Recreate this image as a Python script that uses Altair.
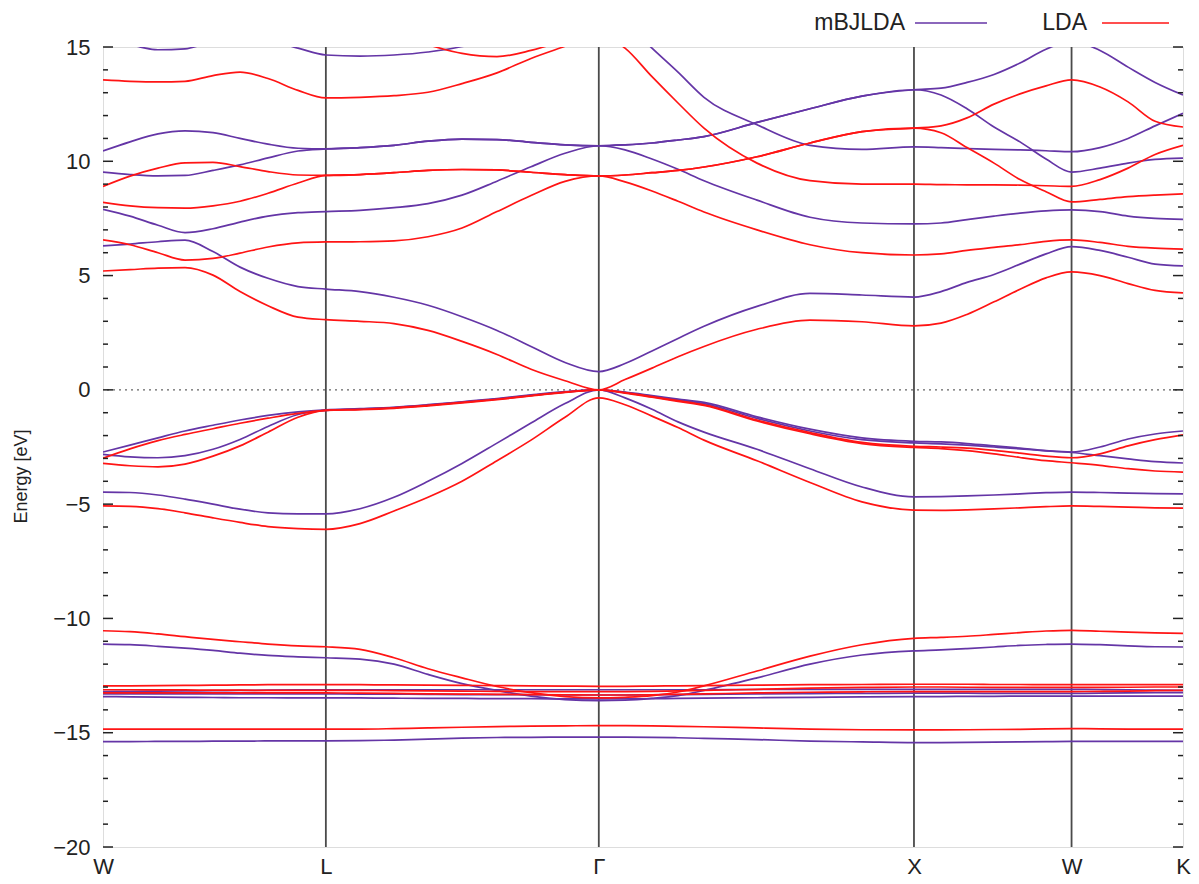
import altair as alt
import pandas as pd

# ---------------- data ----------------
# k-path distance (units of 2*pi/a) along W-L-Gamma-X-W-K
K_PATH = [0.0000, 0.0857, 0.1745, 0.2602, 0.3490, 0.4347, 0.5235, 0.6187, 0.7071,
          0.8154, 0.9233, 1.0312, 1.1391, 1.2501, 1.3580, 1.4659, 1.5731,
          1.6563, 1.7419, 1.8244, 1.9069, 2.0751, 2.2432, 2.4082, 2.5731,
          2.6589, 2.7414, 2.8271, 2.9096, 2.9921, 3.0731,
          3.1634, 3.2524, 3.3381, 3.4267]

SYM_K = [0.0, 0.7071, 1.5731, 2.5731, 3.0731, 3.4267]
SYM_LABELS = ["W", "L", "Γ", "X", "W", "K"]

Y_MAJOR = [-20, -15, -10, -5, 0, 5, 10, 15]
Y_MINOR = [-19, -18, -17, -16, -14, -13, -12, -11, -9, -8, -7, -6, -4, -3, -2, -1,
           1, 2, 3, 4, 6, 7, 8, 9, 11, 12, 13, 14]

METHODS = ["mBJLDA", "LDA"]
COLORS = ["#6435a6", "#ff1414"]

# ---- mBJLDA bands (eV) ----
P1 = [6.30, 6.38, 6.48, 6.55, 6.05, 5.37, 4.88, 4.52, 4.41,
      4.30, 4.05, 3.70, 3.20, 2.60, 1.90, 1.20, 0.80,
      1.15, 1.70, 2.25, 2.78, 3.65, 4.22, 4.15, 4.06,
      4.30, 4.70, 5.05, 5.50, 5.95, 6.27,
      6.10, 5.80, 5.50, 5.42]
P2 = [7.90, 7.60, 7.20, 6.88, 7.05, 7.34, 7.60, 7.75, 7.80,
      7.85, 7.97, 8.15, 8.52, 9.13, 9.76, 10.35, 10.68,
      10.50, 10.10, 9.65, 9.15, 8.30, 7.55, 7.30, 7.26,
      7.30, 7.45, 7.60, 7.73, 7.83, 7.87,
      7.80, 7.60, 7.50, 7.46]
P3 = [9.53, 9.42, 9.36, 9.38, 9.60, 9.84, 10.15, 10.45, 10.54,
      10.60, 10.70, 10.88, 10.97, 10.95, 10.83, 10.72, 10.68,
      10.72, 10.80, 10.93, 11.08, 11.70, 12.30, 12.85, 13.13,
      13.20, 13.45, 13.80, 14.30, 14.90, 15.25,
      14.85, 14.12, 13.45, 12.90]
P4 = [10.45, 10.85, 11.20, 11.33, 11.25, 11.00, 10.75, 10.57, 10.54,
      10.60, 10.70, 10.88, 10.97, 10.95, 10.83, 10.72, 10.68,
      10.72, 10.80, 10.93, 11.08, 11.70, 12.30, 12.85, 13.13,
      12.90, 12.30, 11.50, 10.85, 10.10, 9.53,
      9.70, 9.92, 10.08, 10.14]
P5 = [15.30, 15.10, 14.88, 14.92, 15.25, 15.40, 15.30, 14.95, 14.65,
      14.60, 14.65, 14.78, 15.02, 15.50, 16.00, 16.50, 16.80,
      16.10, 14.95, 13.90, 12.80, 11.60, 10.70, 10.52, 10.63,
      10.60, 10.56, 10.52, 10.50, 10.46, 10.42,
      10.60, 11.00, 11.55, 12.10]
PV1 = [-2.72, -2.42, -2.10, -1.80, -1.55, -1.32, -1.12, -0.96, -0.87,
       -0.82, -0.76, -0.65, -0.52, -0.38, -0.22, -0.08, 0.00,
       -0.10, -0.25, -0.40, -0.55, -1.18, -1.72, -2.10, -2.25,
       -2.28, -2.35, -2.45, -2.55, -2.66, -2.72,
       -2.50, -2.15, -1.93, -1.80]
PV2 = [-2.82, -2.93, -2.97, -2.88, -2.60, -2.17, -1.60, -1.08, -0.90,
       -0.84, -0.78, -0.67, -0.54, -0.40, -0.24, -0.10, 0.00,
       -0.12, -0.28, -0.44, -0.60, -1.25, -1.80, -2.18, -2.32,
       -2.36, -2.42, -2.50, -2.58, -2.67, -2.74,
       -2.88, -3.02, -3.14, -3.20]
PV3 = [-4.47, -4.49, -4.60, -4.78, -5.00, -5.22, -5.38, -5.43, -5.43,
       -5.20, -4.70, -4.00, -3.22, -2.33, -1.45, -0.60, 0.00,
       -0.35, -0.85, -1.40, -1.85, -2.60, -3.45, -4.25, -4.68,
       -4.67, -4.64, -4.60, -4.55, -4.50, -4.47,
       -4.49, -4.52, -4.54, -4.55]
PV4 = [-11.12, -11.15, -11.22, -11.30, -11.40, -11.52, -11.62, -11.68, -11.72,
       -11.78, -12.00, -12.45, -12.85, -13.15, -13.40, -13.55, -13.60,
       -13.58, -13.50, -13.38, -13.15, -12.60, -12.00, -11.60, -11.42,
       -11.38, -11.32, -11.25, -11.18, -11.14, -11.12,
       -11.15, -11.20, -11.24, -11.25]
PD1 = [-13.20, -13.19, -13.18, -13.17, -13.16, -13.15, -13.14, -13.13, -13.13,
       -13.13, -13.13, -13.12, -13.12, -13.12, -13.12, -13.12, -13.12,
       -13.12, -13.12, -13.12, -13.12, -13.11, -13.11, -13.10, -13.10,
       -13.10, -13.10, -13.10, -13.10, -13.10, -13.10,
       -13.11, -13.12, -13.14, -13.15]
PD2 = [-13.30, -13.30, -13.30, -13.30, -13.30, -13.30, -13.30, -13.30, -13.30,
       -13.31, -13.31, -13.32, -13.33, -13.33, -13.34, -13.35, -13.35,
       -13.35, -13.34, -13.33, -13.32, -13.30, -13.29, -13.28, -13.27,
       -13.27, -13.27, -13.28, -13.28, -13.28, -13.28,
       -13.27, -13.26, -13.25, -13.25]
PD3 = [-13.42, -13.43, -13.44, -13.45, -13.46, -13.47, -13.47, -13.48, -13.48,
       -13.48, -13.49, -13.50, -13.50, -13.51, -13.51, -13.52, -13.52,
       -13.52, -13.51, -13.50, -13.49, -13.47, -13.45, -13.43, -13.42,
       -13.42, -13.41, -13.41, -13.40, -13.40, -13.40,
       -13.40, -13.40, -13.40, -13.40]
PV8 = [-15.39, -15.39, -15.38, -15.38, -15.37, -15.37, -15.36, -15.36, -15.36,
       -15.35, -15.32, -15.28, -15.24, -15.21, -15.20, -15.19, -15.19,
       -15.19, -15.20, -15.22, -15.25, -15.30, -15.37, -15.40, -15.43,
       -15.43, -15.42, -15.41, -15.40, -15.39, -15.38,
       -15.38, -15.38, -15.38, -15.38]

# ---- LDA bands (eV) ----
R1 = [5.20, 5.26, 5.33, 5.35, 5.02, 4.30, 3.68, 3.18, 3.07,
      3.00, 2.90, 2.60, 2.12, 1.55, 0.90, 0.40, 0.00,
      0.45, 0.95, 1.45, 1.90, 2.65, 3.05, 2.98, 2.80,
      2.92, 3.30, 3.85, 4.40, 4.90, 5.16,
      5.00, 4.65, 4.35, 4.24]
R2 = [6.56, 6.35, 6.00, 5.68, 5.75, 5.98, 6.25, 6.43, 6.47,
      6.48, 6.52, 6.70, 7.08, 7.80, 8.50, 9.12, 9.36,
      9.10, 8.70, 8.25, 7.78, 7.00, 6.35, 6.00, 5.90,
      5.95, 6.10, 6.23, 6.35, 6.50, 6.56,
      6.45, 6.28, 6.20, 6.16]
R3 = [8.20, 8.05, 7.97, 7.95, 8.05, 8.25, 8.60, 9.05, 9.38,
      9.42, 9.50, 9.60, 9.64, 9.62, 9.52, 9.42, 9.36,
      9.40, 9.50, 9.60, 9.75, 10.20, 10.80, 11.30, 11.45,
      11.55, 11.90, 12.50, 12.95, 13.30, 13.56,
      13.25, 12.60, 11.75, 11.50]
R4 = [8.90, 9.35, 9.70, 9.93, 9.95, 9.77, 9.55, 9.40, 9.38,
      9.42, 9.50, 9.60, 9.64, 9.62, 9.52, 9.42, 9.36,
      9.40, 9.50, 9.60, 9.75, 10.20, 10.80, 11.30, 11.45,
      11.25, 10.60, 9.92, 9.20, 8.67, 8.22,
      8.33, 8.45, 8.52, 8.57]
R5 = [13.56, 13.50, 13.47, 13.50, 13.75, 13.90, 13.62, 13.10, 12.77,
      12.80, 12.87, 13.02, 13.40, 13.87, 14.50, 15.03, 15.55,
      14.95, 13.70, 12.55, 11.45, 9.92, 9.15, 9.00, 9.00,
      8.98, 8.97, 8.97, 8.96, 8.93, 8.90,
      9.20, 9.70, 10.30, 10.70]
R6 = [None, None, None, None, None, None, None, None, None,
      None, 15.60, 15.10, 14.72, 14.58, 14.85, 15.30, 15.80,
      None, None, None, None, None, None, None, None,
      None, None, None, None, None, None,
      None, None, None, None]
RV1 = [-2.99, -2.58, -2.22, -1.95, -1.70, -1.46, -1.24, -1.03, -0.90,
       -0.85, -0.79, -0.68, -0.55, -0.41, -0.25, -0.10, 0.00,
       -0.12, -0.30, -0.47, -0.65, -1.32, -1.87, -2.30, -2.47,
       -2.50, -2.55, -2.65, -2.77, -2.90, -2.97,
       -2.80, -2.45, -2.18, -1.97]
RV2 = [-3.22, -3.32, -3.37, -3.25, -2.90, -2.45, -1.85, -1.20, -0.90,
       -0.87, -0.81, -0.70, -0.57, -0.43, -0.27, -0.11, 0.00,
       -0.14, -0.32, -0.50, -0.68, -1.36, -1.92, -2.35, -2.52,
       -2.57, -2.66, -2.80, -2.96, -3.10, -3.19,
       -3.30, -3.45, -3.55, -3.60]
RV3 = [-5.08, -5.10, -5.20, -5.38, -5.60, -5.80, -5.98, -6.07, -6.10,
       -5.85, -5.30, -4.70, -4.00, -3.10, -2.20, -1.20, -0.35,
       -0.65, -1.15, -1.65, -2.20, -3.10, -4.05, -4.90, -5.26,
       -5.27, -5.25, -5.21, -5.16, -5.11, -5.08,
       -5.10, -5.13, -5.16, -5.17]
RV4 = [-10.54, -10.58, -10.68, -10.80, -10.92, -11.02, -11.12, -11.20, -11.24,
       -11.35, -11.72, -12.20, -12.60, -12.98, -13.25, -13.42, -13.48,
       -13.45, -13.38, -13.22, -12.95, -12.30, -11.65, -11.15, -10.87,
       -10.83, -10.78, -10.70, -10.62, -10.55, -10.52,
       -10.56, -10.60, -10.63, -10.65]
RD1 = [-12.95, -12.95, -12.94, -12.93, -12.92, -12.91, -12.90, -12.90, -12.90,
       -12.90, -12.91, -12.92, -12.93, -12.94, -12.95, -12.96, -12.97,
       -12.97, -12.96, -12.95, -12.94, -12.92, -12.90, -12.89, -12.88,
       -12.88, -12.88, -12.89, -12.89, -12.90, -12.90,
       -12.90, -12.90, -12.90, -12.90]
RD2 = [-13.12, -13.12, -13.13, -13.13, -13.14, -13.14, -13.15, -13.15, -13.15,
       -13.15, -13.16, -13.17, -13.18, -13.19, -13.20, -13.20, -13.20,
       -13.20, -13.19, -13.17, -13.15, -13.10, -13.05, -13.02, -13.00,
       -13.00, -13.01, -13.02, -13.02, -13.02, -13.02,
       -13.02, -13.01, -13.00, -13.00]
RD3 = [-13.26, -13.26, -13.26, -13.26, -13.26, -13.26, -13.26, -13.26, -13.26,
       -13.27, -13.28, -13.30, -13.31, -13.32, -13.33, -13.34, -13.35,
       -13.35, -13.34, -13.32, -13.30, -13.26, -13.23, -13.21, -13.20,
       -13.20, -13.20, -13.20, -13.20, -13.20, -13.20,
       -13.19, -13.18, -13.16, -13.15]
RV8 = [-14.84, -14.84, -14.84, -14.84, -14.84, -14.84, -14.84, -14.84, -14.84,
       -14.84, -14.82, -14.79, -14.76, -14.73, -14.71, -14.70, -14.69,
       -14.69, -14.70, -14.72, -14.74, -14.79, -14.84, -14.87, -14.88,
       -14.88, -14.87, -14.86, -14.85, -14.83, -14.82,
       -14.83, -14.84, -14.84, -14.84]

MBJ_BANDS = {"P1": P1, "P2": P2, "P3": P3, "P4": P4, "P5": P5,
             "PV1": PV1, "PV2": PV2, "PV3": PV3, "PV4": PV4,
             "PD1": PD1, "PD2": PD2, "PD3": PD3, "PV8": PV8}
LDA_BANDS = {"R1": R1, "R2": R2, "R3": R3, "R4": R4, "R5": R5, "R6": R6,
             "RV1": RV1, "RV2": RV2, "RV3": RV3, "RV4": RV4,
             "RD1": RD1, "RD2": RD2, "RD3": RD3, "RV8": RV8}


def band_frame(method, bands):
    rows = []
    for name, vals in bands.items():
        for k, e in zip(K_PATH, vals):
            if e is not None:
                rows.append({"method": method, "band": name, "k": k, "e": e})
    return pd.DataFrame(rows)


df_mbj = band_frame(METHODS[0], MBJ_BANDS)
df_lda = band_frame(METHODS[1], LDA_BANDS)

# ---------------- encodings ----------------
FONT = "Liberation Sans"
TITLE_FONT = "Liberation Sans Narrow, Liberation Sans"
W, H = 1080, 800

label_expr = ""
for i in range(len(SYM_K) - 1):
    mid = (SYM_K[i] + SYM_K[i + 1]) / 2
    label_expr += f"datum.value < {mid:.4f} ? '{SYM_LABELS[i]}' : "
label_expr += f"'{SYM_LABELS[-1]}'"

x_enc = alt.X("k:Q",
              scale=alt.Scale(domain=[SYM_K[0], SYM_K[-1]], nice=False, zero=False),
              axis=alt.Axis(values=SYM_K, labelExpr=label_expr, title=None,
                            ticks=False, tickSize=0, domain=False, grid=False,
                            labelFontSize=22, labelFont=FONT, labelColor="#222",
                            labelPadding=9, labelFlush=False))
y_enc = alt.Y("e:Q",
              scale=alt.Scale(domain=[-20, 15], nice=False, zero=False),
              axis=alt.Axis(values=Y_MAJOR, title="Energy [eV]",
                            ticks=False, tickSize=0, domain=False, grid=False,
                            labelFontSize=22, labelFont=FONT, labelColor="#222",
                            labelPadding=13, labelFlush=False,
                            titleFont=TITLE_FONT, titleFontSize=18, titleFontWeight="normal",
                            titleColor="#222", titleAngle=270, titleAlign="center",
                            titleBaseline="middle", titleX=-82, titleY=429))

color_scale = alt.Scale(domain=METHODS, range=COLORS)

sym_df = pd.DataFrame({"k": SYM_K[1:-1]})
vlines = alt.Chart(sym_df).mark_rule(color="#4a4a4a", strokeWidth=1.8).encode(x=x_enc)

zero_df = pd.DataFrame({"e": [0]})
zero_line = alt.Chart(zero_df).mark_rule(color="#666", strokeWidth=1.3,
                                          strokeDash=[2, 4]).encode(y=y_enc)


def band_layer(df):
    return alt.Chart(df).mark_line(clip=True, strokeWidth=1.7, interpolate="monotone").encode(
        x=x_enc, y=y_enc, detail="band:N",
        color=alt.Color("method:N", scale=color_scale, legend=None))


major_df = pd.DataFrame({"e": Y_MAJOR})
minor_df = pd.DataFrame({"e": Y_MINOR})
tick_layers = []
for df_t, length in [(major_df, 10), (minor_df, 5)]:
    tick_layers.append(alt.Chart(df_t).mark_rule(color="#222", strokeWidth=1.5).encode(
        y=y_enc, x=alt.value(0), x2=alt.value(length)))
    tick_layers.append(alt.Chart(df_t).mark_rule(color="#222", strokeWidth=1.5).encode(
        y=y_enc, x=alt.value(W - length), x2=alt.value(W)))

# manual gnuplot-style key (text then line sample)
LEGEND_TEXT_RIGHT = [802, 984]
LEGEND_LINE = [(812, 884), (999, 1066)]
LEGEND_Y = -24
legend_layers = []
for name, col, tx, (l1, l2) in zip(METHODS, COLORS, LEGEND_TEXT_RIGHT, LEGEND_LINE):
    ldf = pd.DataFrame({"label": [name]})
    legend_layers.append(alt.Chart(ldf).mark_text(
        align="right", baseline="middle", font=FONT, fontSize=23, color="#222").encode(
        text="label:N", x=alt.value(tx), y=alt.value(LEGEND_Y)))
    legend_layers.append(alt.Chart(ldf).mark_rule(color=col, strokeWidth=1.7).encode(
        x=alt.value(l1), x2=alt.value(l2), y=alt.value(LEGEND_Y)))

chart = alt.layer(
    vlines, zero_line, band_layer(df_mbj), band_layer(df_lda), *tick_layers, *legend_layers
).properties(
    width=W, height=H,
    padding={"left": 103, "top": 47, "right": 16, "bottom": 37},
    autosize=alt.AutoSizeParams(type="none"),
    background="white",
).configure_view(stroke="#222", strokeWidth=2).configure(font=FONT)

chart.save("out.html", embed_options={"renderer": "svg", "actions": False})
